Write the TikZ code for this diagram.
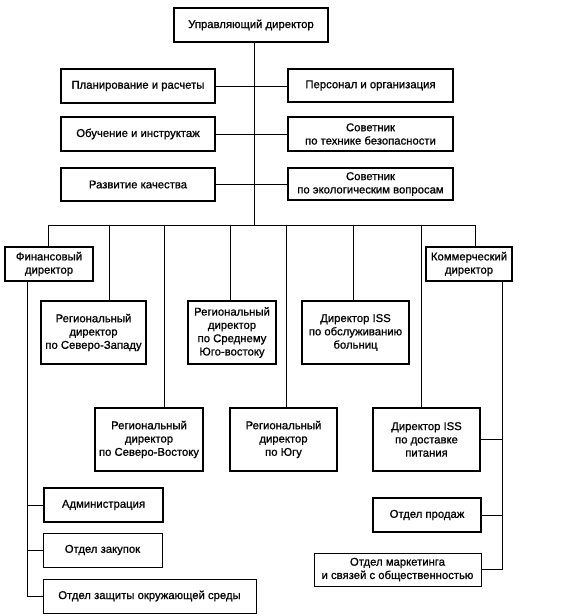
\documentclass[tikz,border=0pt]{standalone}
\usepackage{fontspec}
\setmainfont[FakeBold=0.9]{Liberation Sans}
\begin{document}
\begin{tikzpicture}[x=1pt,y=-1pt,
  box/.style={draw, line width=1.7pt, align=center, inner sep=1pt,
    font=\fontsize{11.3}{13.3}\selectfont},
  tbox/.style={box, line width=1pt},
  conn/.style={line width=0.8pt}]
\useasboundingbox (0,0) rectangle (565,616);
\fill[white] (0,0) rectangle (565,616);
% top
\node[box, minimum width=154pt, minimum height=34pt] (top) at (251,25) {Управляющий директор};
\node[box, minimum width=154pt, minimum height=34pt] (plan) at (138,86) {Планирование и расчеты};
\node[box, minimum width=165pt, minimum height=33pt] (pers) at (370.5,85.5) {Персонал и организация};
\node[box, minimum width=154pt, minimum height=34pt] (obuch) at (138,134) {Обучение и инструктаж};
\node[box, minimum width=165pt, minimum height=34pt] (sovt) at (370.5,134) {Советник\\по технике безопасности};
\node[box, minimum width=154pt, minimum height=33pt] (razv) at (138,184.5) {Развитие качества};
\node[box, minimum width=165pt, minimum height=32pt] (sove) at (370.5,184) {Советник\\по экологическим вопросам};
% second level
\node[box, minimum width=88pt, minimum height=34pt] (fin) at (49,264) {Финансовый\\директор};
\node[box, minimum width=86pt, minimum height=34pt] (kom) at (469,264) {Коммерческий\\директор};
\node[box, minimum width=105pt, minimum height=63pt] (rnw) at (93.5,332.5) {Региональный\\директор\\по Северо-Западу};
\node[box, minimum width=88pt, minimum height=63pt] (rsv) at (232,332.5) {Региональный\\директор\\по Среднему\\Юго-востоку};
\node[box, minimum width=107pt, minimum height=63pt] (issb) at (355.5,332.5) {Директор ISS\\по обслуживанию\\больниц};
\node[box, minimum width=108pt, minimum height=63pt] (rne) at (149,439.5) {Региональный\\директор\\по Северо-Востоку};
\node[box, minimum width=107pt, minimum height=63pt] (rug) at (283.5,439.5) {Региональный\\директор\\по Югу};
\node[box, minimum width=107pt, minimum height=63pt] (issp) at (426.5,439.5) {Директор ISS\\по доставке\\питания};
% departments
\node[box, minimum width=119pt, minimum height=34pt] (adm) at (103.5,505) {Администрация};
\node[tbox, minimum width=119pt, minimum height=34pt] (zak) at (102.5,550) {Отдел закупок};
\node[tbox, minimum width=213pt, minimum height=34pt] (zash) at (149.5,596) {Отдел защиты окружающей среды};
\node[box, minimum width=108pt, minimum height=34pt] (prod) at (427,515) {Отдел продаж};
\node[tbox, minimum width=167pt, minimum height=33pt] (mark) at (397.5,569.5) {Отдел маркетинга\\и связей с общественностью};
% coordinates
\coordinate (bus) at (254,225);
\coordinate (bl) at (48,225);
\coordinate (br) at (475,225);
\coordinate (d1) at (109,225);
\coordinate (d2) at (164,225);
\coordinate (d3) at (230,225);
\coordinate (d4) at (286,225);
\coordinate (d5) at (353,225);
\coordinate (d6) at (421,225);
\coordinate (fv) at (27,281);
\coordinate (kv) at (502,281);
% connectors
\draw[conn] (top.south -| bus) -- (bus);
\draw[conn] (plan.east) -- (plan.east -| pers.west);
\draw[conn] (obuch.east) -- (obuch.east -| sovt.west);
\draw[conn] (razv.east) -- (razv.east -| sove.west);
\draw[conn] (bl) -- (br);
\draw[conn] (bl) -- (bl |- fin.north);
\draw[conn] (br) -- (br |- kom.north);
\draw[conn] (d1) -- (d1 |- rnw.north);
\draw[conn] (d2) -- (d2 |- rne.north);
\draw[conn] (d3) -- (d3 |- rsv.north);
\draw[conn] (d4) -- (d4 |- rug.north);
\draw[conn] (d5) -- (d5 |- issb.north);
\draw[conn] (d6) -- (d6 |- issp.north);
\draw[conn] (fv) -- (fv |- zash.west) -- (zash.west);
\draw[conn] (fv |- adm.west) -- (adm.west);
\draw[conn] (fv |- zak.west) -- (zak.west);
\draw[conn] (kv) -- (kv |- mark.east) -- (mark.east);
\draw[conn] (kv |- issp.east) -- (issp.east);
\draw[conn] (kv |- prod.east) -- (prod.east);
\end{tikzpicture}
\end{document}
